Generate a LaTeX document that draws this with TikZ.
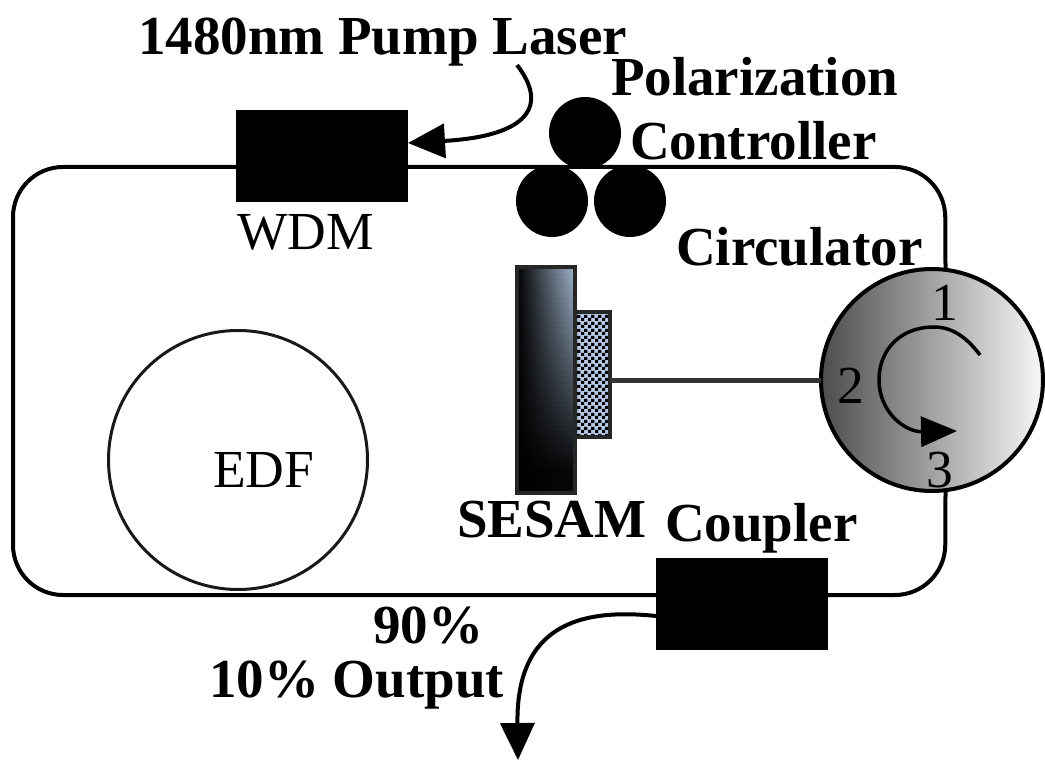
\documentclass[tikz,border=0pt]{standalone}
\usepackage{fontspec}
\setmainfont{Liberation Serif}
\usetikzlibrary{arrows.meta,patterns}
\pgfdeclarepatternformonly{chk}{\pgfqpoint{0pt}{0pt}}{\pgfqpoint{7pt}{7pt}}{\pgfqpoint{7pt}{7pt}}{%
  \pgfpathrectangle{\pgfqpoint{0pt}{0pt}}{\pgfqpoint{3.5pt}{3.5pt}}%
  \pgfpathrectangle{\pgfqpoint{3.5pt}{3.5pt}}{\pgfqpoint{3.5pt}{3.5pt}}%
  \pgfusepath{fill}}
\definecolor{patchblue}{HTML}{B4C8E4}
\definecolor{mirrorlight}{HTML}{A0B4CC}
\tikzset{
  fiber/.style={line width=4pt,draw=black},
  blackbox/.style={rectangle,fill=black,draw=none,inner sep=0pt,outer sep=0pt,minimum width=172pt,minimum height=92pt},
  paddle/.style={circle,fill=black,draw=none,inner sep=0pt,outer sep=0pt,minimum size=72pt},
  boldlabel/.style={anchor=base west,inner sep=0pt,outer sep=0pt,font=\fontsize{55}{55}\selectfont\bfseries},
  plainlabel/.style={anchor=base west,inner sep=0pt,outer sep=0pt,font=\fontsize{53.5}{55}\selectfont},
  portlabel/.style={anchor=base,inner sep=0pt,outer sep=0pt,font=\fontsize{53.5}{55}\selectfont},
  curvearrow/.style={line width=4pt,-{Triangle[length=37pt,width=34pt]}}
}
\begin{document}
\begin{tikzpicture}[x=1pt,y=-1pt]
\useasboundingbox (0,0) rectangle (1045,762);
% components
\node[blackbox] (wdm) at (322,156) {};
\node[blackbox] (coupler) at (742,604) {};
\node[paddle] (pc1) at (585,133) {};
\node[paddle] (pc2) at (552,201) {};
\node[paddle] (pc3) at (630,201) {};
\node[circle,draw=black!90,line width=3pt,inner sep=0pt,outer sep=0pt,minimum size=259pt] (edf) at (238,460) {};
\foreach \i in {0,...,36}{
  \pgfmathsetmacro{\lev}{max(4,100-\i*2.9)}
  \shade[left color=black,right color=mirrorlight!\lev!black,draw=none]
    (517,{267+\i*6.1}) rectangle (575,{267+(\i+1)*6.15});
}
\node[rectangle,draw=black!85,line width=4pt,inner sep=0pt,outer sep=0pt,minimum width=58pt,minimum height=226pt] (mirror) at (546,380) {};
\fill[patchblue] (575,312) rectangle (610,437);
\fill[pattern=chk,pattern color=black] (575,312) rectangle (610,437);
\node[rectangle,draw=black!85,line width=4pt,inner sep=0pt,outer sep=0pt,minimum width=35pt,minimum height=125pt] (patch) at (592.5,374.5) {};
\node[circle,draw=black,line width=4pt,inner sep=0pt,outer sep=0pt,minimum size=222pt,left color=black!70,right color=black!3] (circ) at (932,380) {};
% ring fibre
\draw[fiber,rounded corners=50pt] (circ.83.3) -- (945,167) -- (13,167) -- (13,595) -- (945,595) -- (circ.-83.3);
% fibre from SESAM to circulator
\draw[line width=5pt,draw=black!80] (patch.east |- circ.west) -- (circ.west);
% pump and output
\coordinate (pumpstart) at (517,65);
\coordinate (pumpin) at (408,143);
\coordinate (outstart) at (656,616);
\coordinate (outend) at (518,760);
\draw[curvearrow] (pumpstart) .. controls (548,105) and (530,136) .. (pumpin);
\draw[curvearrow] (outstart) .. controls (580,608) and (516,625) .. (outend);
% circulation arrow
\coordinate (circa) at (980,355);
\coordinate (circb) at (957,431);
\draw[line width=3.5pt,-{Triangle[length=36pt,width=30pt]}] (circa) .. controls (965,335) and (950,327) .. (934,327) .. controls (900,327) and (879,350) .. (879,380) .. controls (879,412) and (905,432) .. (circb);
% labels
\node[boldlabel] (tpump) at (138,55) {1480nm Pump Laser};
\node[boldlabel] (tpol) at (611,96) {Polarization};
\node[boldlabel] (tctrl) at (630,160) {Controller};
\node[boldlabel] (tcirc) at (676,266) {Circulator};
\node[plainlabel] (twdm) at (237,250) {WDM};
\node[plainlabel] (tedf) at (213,487) {EDF};
\node[boldlabel] (tses) at (457,537) {SESAM};
\node[boldlabel] (tcoup) at (665,541) {Coupler};
\node[boldlabel] (t90) at (373,643) {90\%};
\node[boldlabel] (t10) at (209,697) {10\% Output};
\node[portlabel] (p1) at (945,320) {1};
\node[portlabel] (p2) at (851,403) {2};
\node[portlabel] (p3) at (940,487) {3};
\end{tikzpicture}
\end{document}
